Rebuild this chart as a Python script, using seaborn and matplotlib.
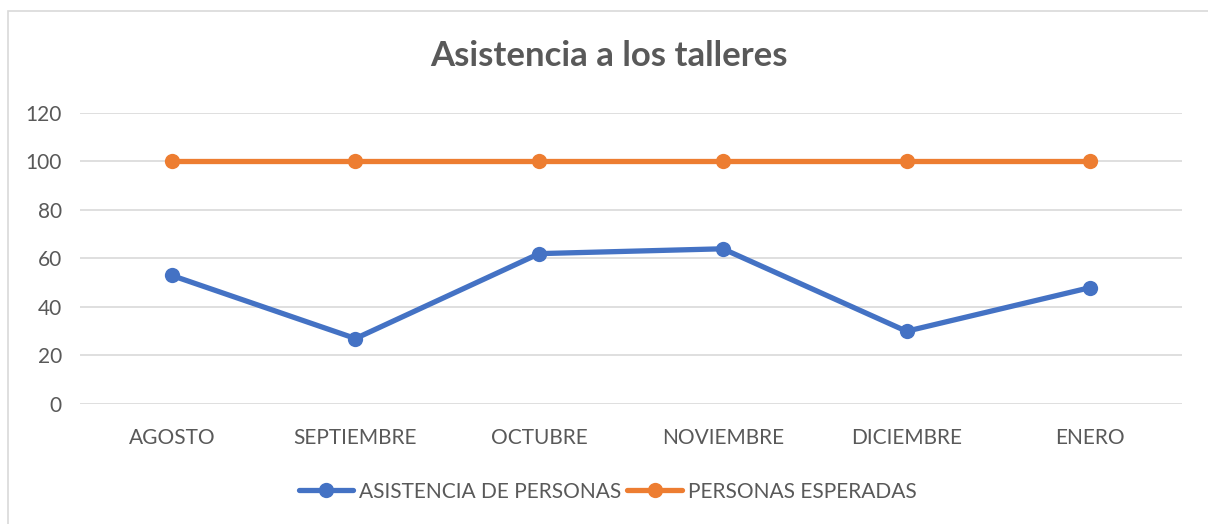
import pandas as pd
import seaborn as sns
from matplotlib import pyplot as plt
from matplotlib.patches import Rectangle

months = ["AGOSTO", "SEPTIEMBRE", "OCTUBRE", "NOVIEMBRE", "DICIEMBRE", "ENERO"]
asistencia = [53, 27, 62, 64, 30, 48]
esperadas = [100, 100, 100, 100, 100, 100]
series_names = ["ASISTENCIA DE PERSONAS", "PERSONAS ESPERADAS"]
y_ticks = [0, 20, 40, 60, 80, 100, 120]

df = pd.DataFrame({
    "mes": months * 2,
    "valor": asistencia + esperadas,
    "serie": [series_names[0]] * len(months) + [series_names[1]] * len(months),
})

sns.set_style("white")
plt.rcParams["font.family"] = ["Lato", "DejaVu Sans"]
text_color = "#595959"
grid_color = "#D9D9D9"

fig = plt.figure(figsize=(12.08, 5.24), dpi=100)
ax = fig.add_axes([0.0662, 0.229, 0.9123, 0.5554])

sns.lineplot(data=df, x="mes", y="valor", hue="serie", sort=False,
             palette=["#4472C4", "#ED7D31"], linewidth=3.8,
             marker="o", markersize=11, markeredgewidth=0, ax=ax)

ax.set_xlim(-0.5, len(months) - 0.5)
ax.set_ylim(0, 120)
ax.set_yticks(y_ticks)
ax.yaxis.grid(True, color=grid_color, linewidth=1.2)
ax.set_axisbelow(True)
for s in ax.spines.values():
    s.set_visible(False)
ax.tick_params(axis="both", length=0, labelsize=15, labelcolor=text_color)
ax.tick_params(axis="x", pad=17)
ax.tick_params(axis="y", pad=13)
ax.set_xlabel("")
ax.set_ylabel("")

fig.text(0.504, 0.893, "Asistencia a los talleres", ha="center", va="center",
         fontsize=25, fontweight="bold", color=text_color)

handles, labels = ax.get_legend_handles_labels()
ax.legend(handles, labels, loc="center", bbox_to_anchor=(0.503, 0.062),
          bbox_transform=fig.transFigure, ncol=2, frameon=False,
          fontsize=15, labelcolor=text_color, handlelength=2.6,
          handletextpad=0.3, columnspacing=0.3)

fig.patches.append(Rectangle((8 / 1208, -0.01), 1.0, 0.989, transform=fig.transFigure,
                             fill=False, edgecolor=grid_color, linewidth=1.2))

plt.savefig("out.png", dpi=100)
